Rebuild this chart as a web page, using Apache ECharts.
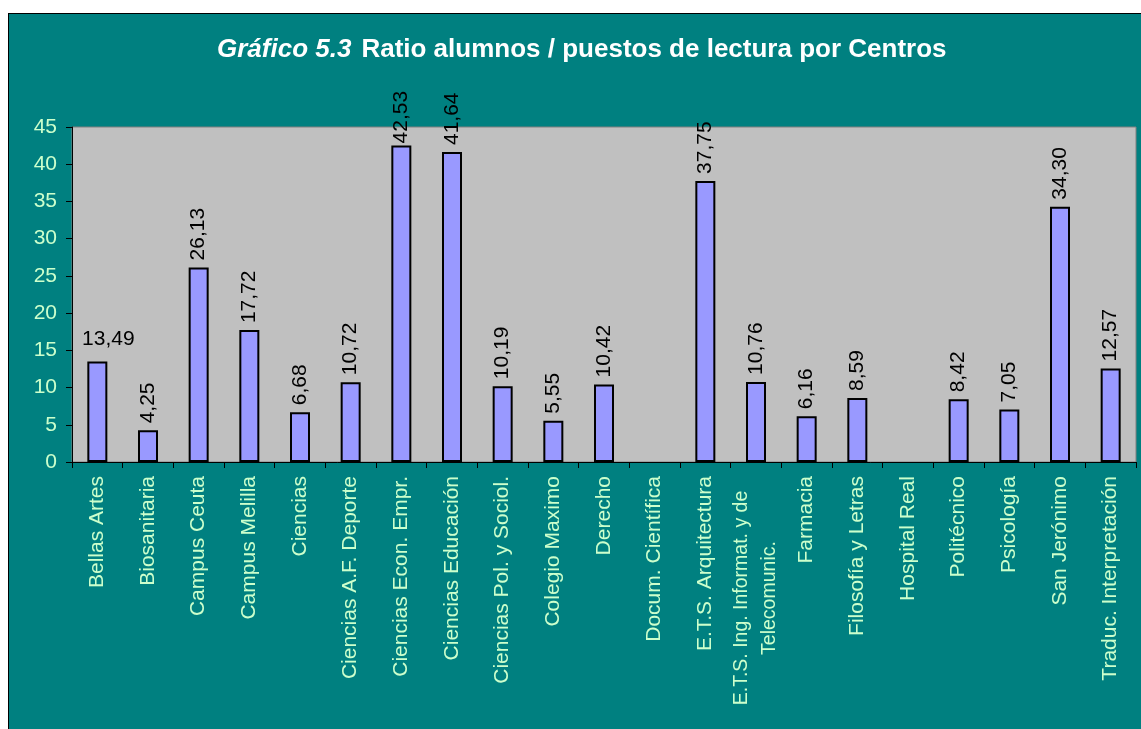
<!DOCTYPE html>
<html>
<head>
<meta charset="utf-8">
<script src="https://cdn.jsdelivr.net/npm/echarts@6/dist/echarts.min.js"></script>
<style>
  html, body { margin: 0; padding: 0; background: #fff; }
  #chart { position: absolute; left: 8px; top: 13px; width: 1132px; height: 715px;
           background: #008080; border-left: 1px solid #000; border-top: 1px solid #000; }
</style>
</head>
<body>
<div id="chart"></div>
<script>
// centros
var centros = ['Bellas Artes', 'Biosanitaria', 'Campus Ceuta', 'Campus Melilla', 'Ciencias',
    'Ciencias A.F. Deporte', 'Ciencias Econ. Empr.', 'Ciencias Educación', 'Ciencias Pol. y Sociol.',
    'Colegio Maximo', 'Derecho', 'Docum. Científica', 'E.T.S. Arquitectura',
    'E.T.S. Ing. Informat. y de\nTelecomunic.', 'Farmacia', 'Filosofía y Letras', 'Hospital Real',
    'Politécnico', 'Psicología', 'San Jerónimo', 'Traduc. Interpretación'];
// ratio alumnos / puestos
var ratio = [13.49, 4.25, 26.13, 17.72, 6.68, 10.72, 42.53, 41.64, 10.19, 5.55, 10.42, null,
    37.75, 10.76, 6.16, 8.59, null, 8.42, 7.05, 34.30, 12.57];
var yTicks = [0, 5, 10, 15, 20, 25, 30, 35, 40, 45];

var fuente = 'Arial, "Liberation Sans", sans-serif';
var verdeClaro = '#ccffcc';

var chart = echarts.init(document.getElementById('chart'));

var datos = [];
for (var i = 0; i < ratio.length; i++) {
    var item = { value: ratio[i] };
    if (i === 0) {
        // la primera etiqueta va horizontal
        item.label = { rotate: 0, align: 'center', verticalAlign: 'bottom', distance: 6, offset: [11, -6] };
    } else if (ratio[i] > 42) {
        item.label = { distance: 2 };
    }
    datos.push(item);
}

var option = {
    animation: false,
    title: {
        text: '{a|Gráfico 5.3}  {b|Ratio alumnos / puestos de lectura por Centros}',
        left: 203,
        top: 18,
        textStyle: {
            rich: {
                a: { fontFamily: fuente, fontSize: 26, fontWeight: 'bold', fontStyle: 'italic', color: '#fff' },
                b: { fontFamily: fuente, fontSize: 26, fontWeight: 'bold', color: '#fff' }
            }
        }
    },
    grid: {
        left: 63, right: 5, top: 113, bottom: 267,
        show: true, backgroundColor: '#c0c0c0', borderColor: '#808080', borderWidth: 1
    },
    xAxis: {
        type: 'category',
        data: centros,
        axisLine: { lineStyle: { color: '#000', width: 1 } },
        axisTick: { show: true, length: 6, lineStyle: { color: '#000' } },
        axisLabel: {
            rotate: 90,
            interval: 0,
            margin: 14,
            color: verdeClaro,
            fontFamily: fuente,
            fontSize: 21,
            lineHeight: 28,
            formatter: function (v) {
                if (v.indexOf('\n') >= 0) {
                    return v.split('\n').map(function (s) { return '{c|' + s + '}'; }).join('\n');
                }
                return v;
            },
            rich: {
                c: { width: 244, align: 'center', color: verdeClaro, fontFamily: fuente, fontSize: 19.5, lineHeight: 28 }
            }
        }
    },
    yAxis: {
        type: 'value',
        min: yTicks[0],
        max: yTicks[yTicks.length - 1],
        interval: 5,
        splitLine: { show: false },
        axisLine: { show: true, lineStyle: { color: '#000', width: 1 } },
        axisTick: { show: true, length: 6, lineStyle: { color: '#000' } },
        axisLabel: { color: verdeClaro, fontFamily: fuente, fontSize: 21, margin: 15 }
    },
    series: [{
        type: 'bar',
        data: datos,
        barWidth: 20,
        itemStyle: { color: '#9999ff', borderColor: '#000', borderWidth: 2 },
        label: {
            show: true,
            position: 'top',
            rotate: 90,
            align: 'left',
            verticalAlign: 'middle',
            distance: 7,
            color: '#000',
            fontFamily: fuente,
            fontSize: 21,
            formatter: function (p) {
                return p.value == null ? '' : p.value.toFixed(2).replace('.', ',');
            }
        }
    }]
};
chart.setOption(option);
</script>
</body>
</html>
